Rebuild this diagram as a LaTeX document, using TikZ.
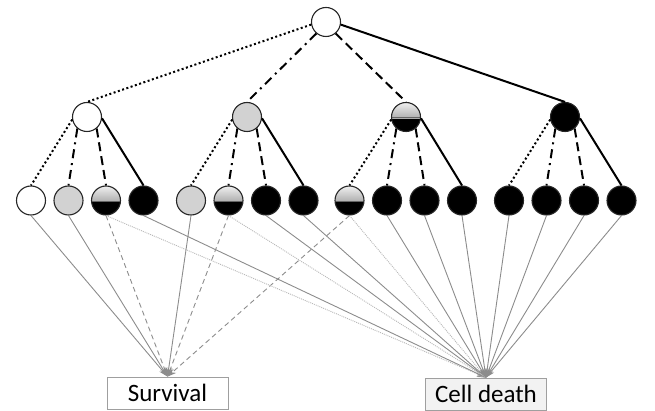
\documentclass[tikz,border=0pt]{standalone}
\usepackage{fontspec}
\setmainfont{Carlito}
\usetikzlibrary{positioning,arrows.meta}

\begin{document}
\begin{tikzpicture}[x=1pt,y=-1pt,node distance=37.5pt]
  \tikzstyle{state} = [circle, draw=black!85, line width=1.1pt, minimum size=29pt, inner sep=0pt]
  \tikzstyle{alive} = [state, fill=white]
  \tikzstyle{weak} = [state, fill=gray!35]
  \tikzstyle{dead} = [state, fill=black]
  \tikzstyle{half} = [state, path picture={
      \fill[black] ([yshift=-1.5pt]path picture bounding box.west) rectangle (path picture bounding box.south east);
      \shade[top color=gray!12, bottom color=gray!65] (path picture bounding box.north west) rectangle ([yshift=-1.5pt]path picture bounding box.east);
      \fill[gray!80!black] ([yshift=-0.3pt]path picture bounding box.west) rectangle ([yshift=-1.5pt]path picture bounding box.east);}]
  \tikzstyle{fate} = [rectangle, draw=gray!75, line width=0.8pt, minimum width=121pt, minimum height=32pt,
                      font=\fontsize{25}{30}\selectfont]
  \tikzstyle{dotbranch} = [line width=2pt, dash pattern=on 2pt off 2.5pt]
  \tikzstyle{dashdotbranch} = [line width=2pt, dash pattern=on 9pt off 5pt on 2pt off 5pt]
  \tikzstyle{dashbranch} = [line width=2pt, dash pattern=on 9pt off 5pt]
  \tikzstyle{solidbranch} = [line width=2pt]
  \tikzstyle{link} = [gray!90, line width=0.9pt, -{Stealth[length=9pt,width=6pt]}]
  \tikzstyle{dashlink} = [link, dash pattern=on 5pt off 3.5pt]
  \tikzstyle{dotlink} = [link, gray!55, dash pattern=on 1pt off 1pt]

\useasboundingbox (0,0) rectangle (655,411);

% tree
\node[alive] (root) at (326,22) {};
\node[alive] (m1) at (87,117) {};
\node[weak] (m2) at (247,117) {};
\node[half] (m3) at (406,117) {};
\node[dead] (m4) at (565,117) {};

\node[alive] (c1) at (31,200.5) {};
\node[weak, right of=c1] (c2) {};
\node[half, right of=c2] (c3) {};
\node[dead, right of=c3] (c4) {};
\node[weak] (c5) at (191,200.5) {};
\node[half, right of=c5] (c6) {};
\node[dead, right of=c6] (c7) {};
\node[dead, right of=c7] (c8) {};
\node[half] (c9) at (349.5,200.5) {};
\node[dead, right of=c9] (c10) {};
\node[dead, right of=c10] (c11) {};
\node[dead, right of=c11] (c12) {};
\node[dead] (c13) at (509,200.5) {};
\node[dead, right of=c13] (c14) {};
\node[dead, right of=c14] (c15) {};
\node[dead, right of=c15] (c16) {};

% outcomes
\node[fate, fill=white] (surv) at (167.5,393) {Survival};
\node[fate, fill=gray!10] (death) at (486,394) {Cell death};

\draw[dotbranch] (root.190) -- (m1.north);
\draw[dashdotbranch] (root.230) -- (m2.north);
\draw[dashbranch] (root.310) -- (m3.north);
\draw[solidbranch] (root.350) -- (m4.north);

\draw[dotbranch] (m1.190) -- (c1.north);
\draw[dashdotbranch] (m1.230) -- (c2.north);
\draw[dashbranch] (m1.310) -- (c3.north);
\draw[solidbranch] (m1.355) -- (c4.north);
\draw[dotbranch] (m2.190) -- (c5.north);
\draw[dashdotbranch] (m2.230) -- (c6.north);
\draw[dashbranch] (m2.310) -- (c7.north);
\draw[solidbranch] (m2.355) -- (c8.north);
\draw[dotbranch] (m3.190) -- (c9.north);
\draw[dashdotbranch] (m3.230) -- (c10.north);
\draw[dashbranch] (m3.310) -- (c11.north);
\draw[solidbranch] (m3.355) -- (c12.north);
\draw[dotbranch] (m4.190) -- (c13.north);
\draw[dashdotbranch] (m4.230) -- (c14.north);
\draw[dashbranch] (m4.310) -- (c15.north);
\draw[solidbranch] (m4.355) -- (c16.north);

% fates
\draw[link] (c1.south) -- (surv.north);
\draw[link] (c2.south) -- (surv.north);
\draw[dashlink] (c3.south) -- (surv.north);
\draw[link] (c5.south) -- (surv.north);
\draw[dashlink] (c6.south) -- (surv.north);
\draw[dashlink] (c9.south) -- (surv.north);

\draw[dotlink] (c3.south) -- (death.north);
\draw[link] (c4.south) -- (death.north);
\draw[dotlink] (c6.south) -- (death.north);
\draw[link] (c7.south) -- (death.north);
\draw[link] (c8.south) -- (death.north);
\draw[dotlink] (c9.south) -- (death.north);
\draw[link] (c10.south) -- (death.north);
\draw[link] (c11.south) -- (death.north);
\draw[link] (c12.south) -- (death.north);
\draw[link] (c13.south) -- (death.north);
\draw[link] (c14.south) -- (death.north);
\draw[link] (c15.south) -- (death.north);
\draw[link] (c16.south) -- (death.north);
\end{tikzpicture}
\end{document}
